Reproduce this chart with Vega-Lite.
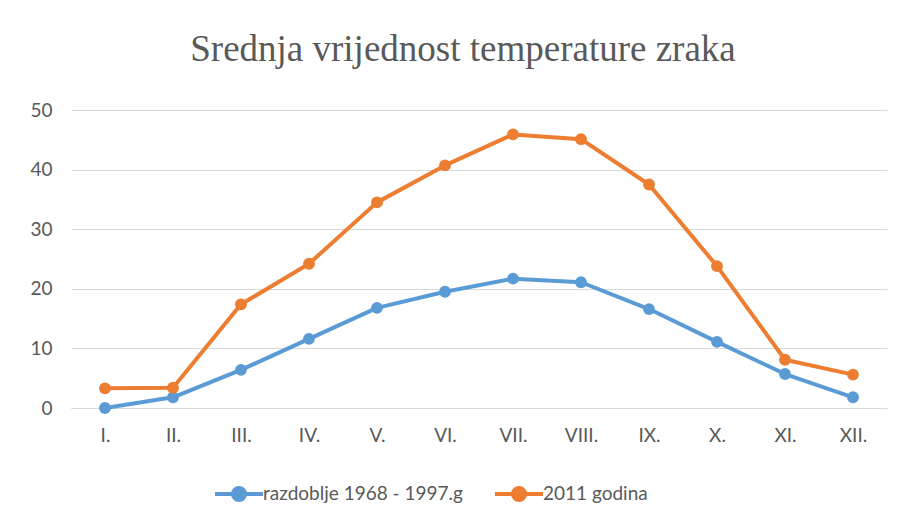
{
  "$schema": "https://vega.github.io/schema/vega-lite/v6.json",
  "width": 816,
  "height": 298,
  "autosize": "none",
  "padding": {"left": 71, "top": 110, "right": 18, "bottom": 117},
  "background": "white",
  "title": {
    "text": "Srednja vrijednost temperature zraka",
    "font": "Liberation Serif",
    "fontSize": 37,
    "fontWeight": "normal",
    "color": "#595959",
    "anchor": "middle",
    "offset": 32,
    "dx": -16
  },
  "data": {
    "values": [
      {"mjesec": "I.", "serija": "razdoblje 1968 - 1997.g", "t": 0.0},
      {"mjesec": "II.", "serija": "razdoblje 1968 - 1997.g", "t": 1.8},
      {"mjesec": "III.", "serija": "razdoblje 1968 - 1997.g", "t": 6.4},
      {"mjesec": "IV.", "serija": "razdoblje 1968 - 1997.g", "t": 11.6},
      {"mjesec": "V.", "serija": "razdoblje 1968 - 1997.g", "t": 16.8},
      {"mjesec": "VI.", "serija": "razdoblje 1968 - 1997.g", "t": 19.5},
      {"mjesec": "VII.", "serija": "razdoblje 1968 - 1997.g", "t": 21.7},
      {"mjesec": "VIII.", "serija": "razdoblje 1968 - 1997.g", "t": 21.1},
      {"mjesec": "IX.", "serija": "razdoblje 1968 - 1997.g", "t": 16.6},
      {"mjesec": "X.", "serija": "razdoblje 1968 - 1997.g", "t": 11.1},
      {"mjesec": "XI.", "serija": "razdoblje 1968 - 1997.g", "t": 5.7},
      {"mjesec": "XII.", "serija": "razdoblje 1968 - 1997.g", "t": 1.8},
      {"mjesec": "I.", "serija": "2011 godina", "t": 3.3},
      {"mjesec": "II.", "serija": "2011 godina", "t": 3.4},
      {"mjesec": "III.", "serija": "2011 godina", "t": 17.4},
      {"mjesec": "IV.", "serija": "2011 godina", "t": 24.2},
      {"mjesec": "V.", "serija": "2011 godina", "t": 34.5},
      {"mjesec": "VI.", "serija": "2011 godina", "t": 40.7},
      {"mjesec": "VII.", "serija": "2011 godina", "t": 45.9},
      {"mjesec": "VIII.", "serija": "2011 godina", "t": 45.1},
      {"mjesec": "IX.", "serija": "2011 godina", "t": 37.5},
      {"mjesec": "X.", "serija": "2011 godina", "t": 23.8},
      {"mjesec": "XI.", "serija": "2011 godina", "t": 8.1},
      {"mjesec": "XII.", "serija": "2011 godina", "t": 5.6}
    ]
  },
  "encoding": {
    "x": {
      "field": "mjesec",
      "type": "ordinal",
      "sort": ["I.", "II.", "III.", "IV.", "V.", "VI.", "VII.", "VIII.", "IX.", "X.", "XI.", "XII."],
      "scale": {"type": "point", "padding": 0.5},
      "axis": {
        "title": null,
        "labelAngle": 0,
        "labelFont": "Lato",
        "labelFontSize": 19,
        "labelColor": "#595959",
        "labelPadding": 18,
        "ticks": false,
        "domainColor": "#d9d9d9",
        "domainWidth": 1,
        "grid": false
      }
    },
    "y": {
      "field": "t",
      "type": "quantitative",
      "scale": {"domain": [0, 50], "nice": false, "zero": true},
      "axis": {
        "title": null,
        "values": [0, 10, 20, 30, 40, 50],
        "labelFont": "Lato",
        "labelFontSize": 19,
        "labelColor": "#595959",
        "labelPadding": 19,
        "ticks": false,
        "domain": false,
        "gridColor": "#d9d9d9",
        "gridWidth": 1
      }
    },
    "color": {
      "field": "serija",
      "type": "nominal",
      "sort": ["razdoblje 1968 - 1997.g", "2011 godina"],
      "scale": {"domain": ["razdoblje 1968 - 1997.g", "2011 godina"], "range": ["#5B9BD5", "#ED7D31"]},
      "legend": {
        "title": null,
        "orient": "none",
        "legendX": 142,
        "legendY": 358,
        "direction": "horizontal",
        "symbolType": "M-1,0H1M-0.25,0A0.25,0.25 0 1,1 0.25,0A0.25,0.25 0 1,1 -0.25,0Z",
        "symbolSize": 2304,
        "symbolStrokeWidth": 4,
        "labelFont": "Lato",
        "labelFontSize": 19,
        "labelColor": "#595959",
        "labelLimit": 400,
        "labelOffset": -2,
        "columnPadding": 24
      }
    }
  },
  "layer": [
    {"mark": {"type": "line", "strokeWidth": 4, "strokeCap": "round", "strokeJoin": "round"}},
    {"mark": {"type": "point", "filled": true, "size": 140, "opacity": 1}}
  ],
  "config": {"view": {"stroke": null}}
}
